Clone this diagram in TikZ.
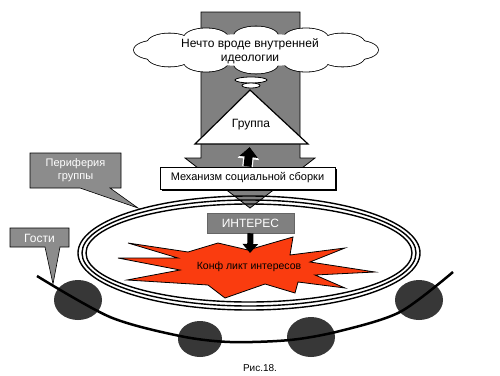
\documentclass[tikz,border=0pt]{standalone}
\usepackage{fontspec}
\setmainfont{Liberation Sans}
\usetikzlibrary{shapes.geometric,arrows.meta,calc}
\definecolor{colgray}{RGB}{128,128,128}
\definecolor{callgray}{RGB}{140,140,140}
\definecolor{boom}{RGB}{250,60,15}
\definecolor{guestc}{RGB}{55,55,55}
\newcommand{\fsz}[1]{\fontsize{#1}{#1}\selectfont}
\begin{document}
\begin{tikzpicture}[x=1pt,y=-1pt,
  lbl/.style={inner sep=0pt, align=center},
  outline/.style={draw=black, line width=0.8pt},
  ring/.style={line width=1.4pt},
  guest/.style={ellipse, fill=guestc, minimum width=48pt, minimum height=40pt, inner sep=0pt},
  callout/.style={fill=callgray, draw=black, line width=0.6pt},
  uparrow/.style={line width=8pt, -{Triangle[width=18pt,length=10pt]},
     preaction={draw=white, line width=10.5pt, -{Triangle[width=21pt,length=12pt]}}},
  downarrow/.style={line width=6pt, -{Triangle[width=15pt,length=9pt]}}]
\path[use as bounding box] (0,0) rectangle (500,375);
\fill[white] (0,0) rectangle (500,375);

% big gray arrow column
\draw[fill=colgray, outline] (201,12) -- (300,12) -- (300,158) -- (315,158) -- (250,208) -- (185,158) -- (201,158) -- cycle;

% group triangle
\draw[fill=white, draw=black, line width=1.2pt] (250,90) -- (308,144) -- (195,144) -- cycle;
\node[lbl, font=\fsz{12}] (grp) at (251,125) {Группа};
\coordinate (grpbase) at (250,144);

% cloud (union of puffs: thick outline pass, then white fill pass)
\coordinate (cloud) at (256,50);
\foreach \a in {0,30,...,330}
  \draw[line width=1.6pt] ($(cloud)+({100*cos(\a)},{14*sin(\a)})$) ellipse [x radius=22, y radius=9.5];
\foreach \a in {0,30,...,330}
  \fill[white] ($(cloud)+({100*cos(\a)},{14*sin(\a)})$) ellipse [x radius=22, y radius=9.5];
\fill[white] (cloud) ellipse [x radius=104, y radius=16];
\node[lbl, font=\fontsize{12}{14}\selectfont] (idea) at (250,51) {Нечто вроде внутренней\\идеологии};
% thought bubbles
\draw[fill=white, outline] (251,80) ellipse [x radius=16, y radius=3];
\draw[fill=white, outline] (251,85.5) ellipse [x radius=9, y radius=2.5];

% mechanism box
\fill[black] (162,169) rectangle (337,191);
\node[draw=black, fill=white, line width=1pt, minimum width=175pt, minimum height=22pt, inner sep=0pt,
      font=\fsz{11}] (mech) at (247.5,178) {Механизм социальной сборки};
\draw[uparrow, shorten >=3pt] (mech.north) -- (grpbase);

% rings
\coordinate (ringc) at (249,253);
\draw[ring] (ringc) ellipse [x radius=171, y radius=57];
\draw[ring] (ringc) ellipse [x radius=167, y radius=53];
\draw[ring] (ringc) ellipse [x radius=163, y radius=49];

% interest
\node[fill=colgray, draw=black!60, line width=0.5pt, minimum width=87pt, minimum height=20pt, inner sep=0pt,
      text=white, font=\fsz{12}] (int) at (250.5,223) {ИНТЕРЕС};

% conflict explosion
\draw[fill=boom, outline] (128,243) -- (188,252) -- (218,243) -- (248,250) -- (293,237) -- (290,255)
  -- (345,248) -- (310,262) -- (375,272) -- (315,275) -- (345,288) -- (298,282) -- (295,293)
  -- (265,284) -- (225,298) -- (208,285) -- (127,280) -- (180,270) -- (118,258) -- (178,258) -- cycle;
\node[lbl, font=\fsz{10.5}] (conf) at (249,267) {Конф ликт интересов};
\coordinate (boomtop) at (250,253);
\draw[downarrow] (int.south) -- (boomtop);

% guests
\node[guest] (g1) at (78,300) {};
\node[guest, minimum width=44pt, minimum height=36pt] (g2) at (200,339) {};
\node[guest] (g3) at (311,337) {};
\node[guest] (g4) at (419,300) {};
\draw[line width=2.5pt] plot[smooth, tension=0.5] coordinates {(37,276) (110,317) (180,336) (230,342) (290,340) (340,331) (400,312) (453,272)};

% callouts
\draw[callout] (30,153) -- (121,153) -- (121,188) -- (110,188) -- (138,208) -- (80,188) -- (30,188) -- cycle;
\node[lbl, text=white, font=\fontsize{11}{13}\selectfont] (peri) at (75.5,170) {Периферия\\группы};
\draw[callout] (10,228) -- (69,228) -- (69,247) -- (60,247) -- (53,284) -- (45,247) -- (10,247) -- cycle;
\node[lbl, text=white, font=\fsz{12}] (guests) at (39.5,238) {Гости};

% caption
\node[lbl, font=\fsz{10}] (cap) at (260,368) {Рис.18.};
\end{tikzpicture}
\end{document}
